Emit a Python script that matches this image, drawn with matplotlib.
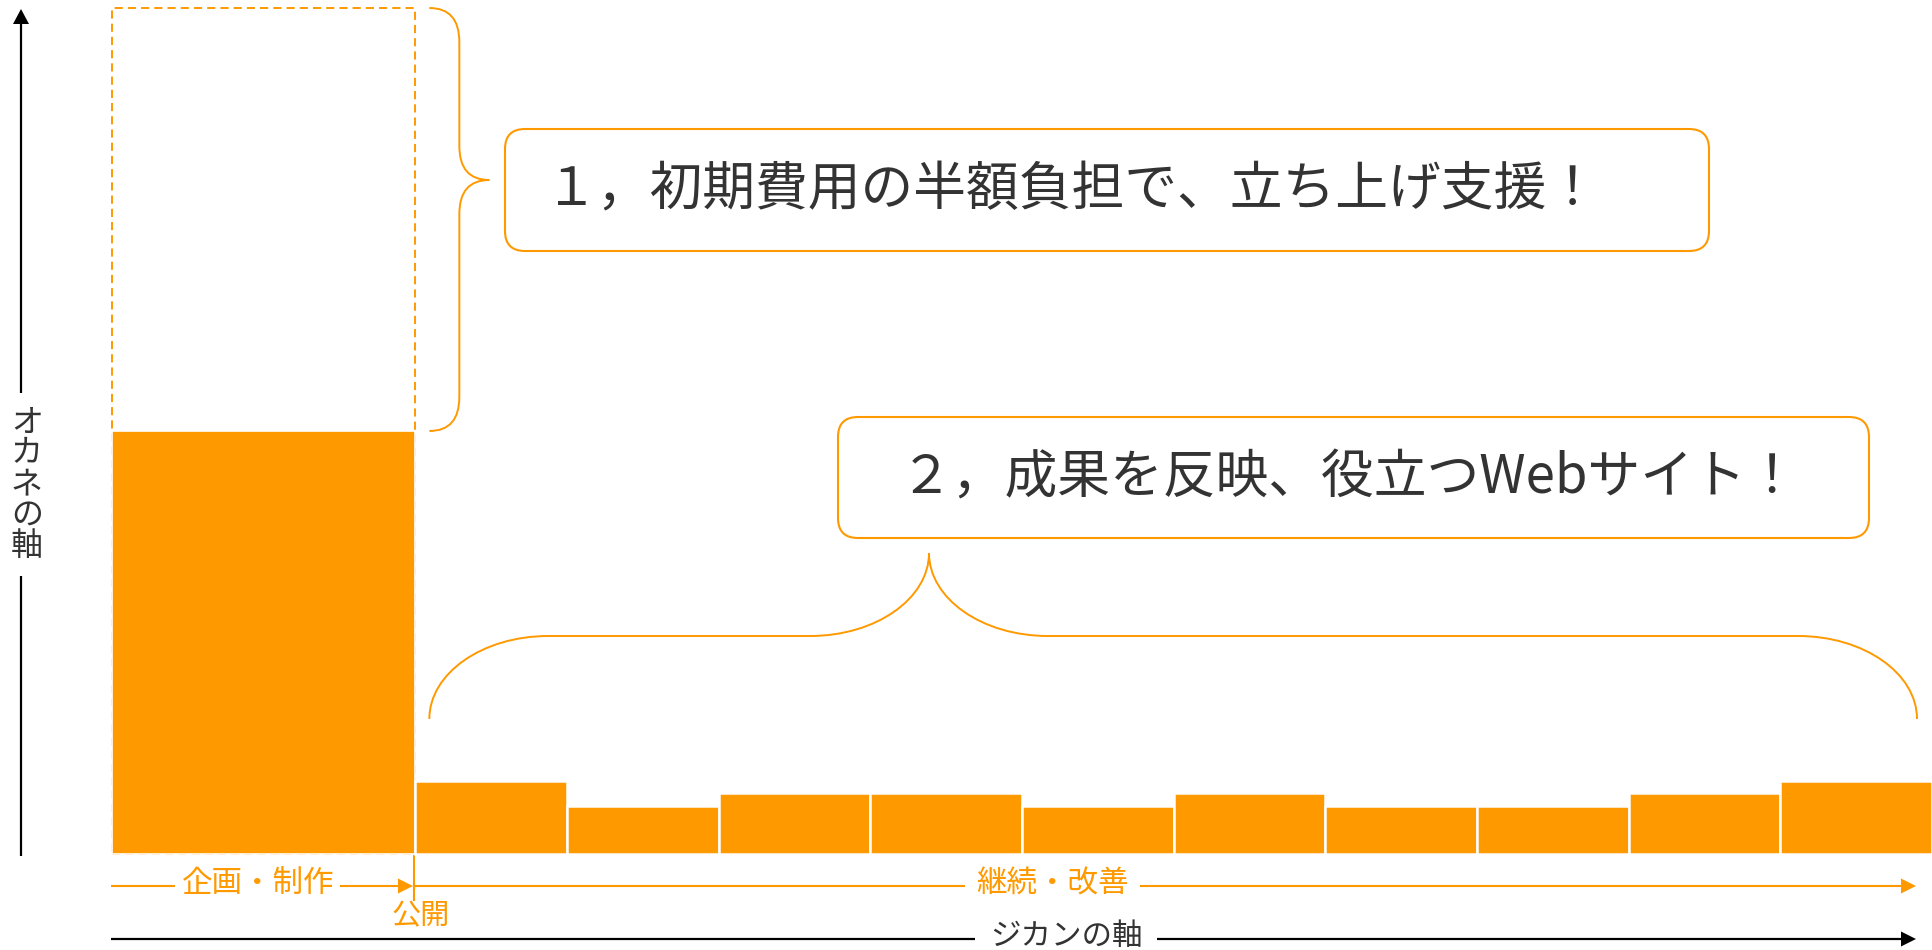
import matplotlib
matplotlib.use('Agg')
import matplotlib.pyplot as plt
from matplotlib.patches import FancyBboxPatch, Polygon, PathPatch
from matplotlib.path import Path

plt.rcParams['font.family'] = ['Noto Sans CJK JP', 'DejaVu Sans']

# ---------------- data ----------------
phase_labels = ['企画・制作', '公開', '継続・改善']
initial_cost_full = 100      # 通常の初期費用
initial_cost_paid = 50       # 半額負担後の初期費用
initial_months = 2           # 企画・制作の期間
monthly_costs = [8.6, 5.7, 7.2, 7.2, 5.7, 7.2, 5.7, 5.7, 7.2, 8.6]
message1 = '１，初期費用の半額負担で、立ち上げ支援！'
message2 = '２，成果を反映、役立つWebサイト！'
y_label = 'オカネの軸'
x_label = 'ジカンの軸'

ORANGE = '#FF9900'
DARK = '#333333'

W, H = 1932, 950
fig = plt.figure(figsize=(W / 100, H / 100), dpi=100)

# overlay axes in pixel coordinates (y downwards) for decorations
ov = fig.add_axes([0, 0, 1, 1])
ov.set_xlim(0, W)
ov.set_ylim(H, 0)
ov.axis('off')

# data axes
x0_px, x1_px, ybot_px, ytop_px = 112, 1932, 854, 8
ax = fig.add_axes([x0_px / W, (H - ybot_px) / H, (x1_px - x0_px) / W, (ybot_px - ytop_px) / H])
n_total = initial_months + len(monthly_costs)
ax.set_xlim(0, n_total)
ax.set_ylim(0, initial_cost_full)
ax.axis('off')

# bars
ax.bar(0, initial_cost_full, width=initial_months, align='edge', facecolor='none',
       edgecolor=ORANGE, linestyle=(0, (4.2, 2.6)), linewidth=1.4, zorder=1, clip_on=False)
ax.bar(0, initial_cost_paid, width=initial_months, align='edge', color=ORANGE,
       edgecolor='white', linewidth=1.2, zorder=2, clip_on=False)
ax.bar(list(range(initial_months, n_total)), monthly_costs, width=1, align='edge',
       color=ORANGE, edgecolor='white', linewidth=1.8, zorder=2, clip_on=False)


def to_px(x, y):
    return ov.transData.inverted().transform(ax.transData.transform((x, y)))


M, L3, C3, C4 = Path.MOVETO, Path.LINETO, Path.CURVE3, Path.CURVE4

# upper brace (covers the subsidised half of the initial cost)
bx = to_px(initial_months, 0)[0]
yt = to_px(0, initial_cost_full)[1]
yb = to_px(0, initial_cost_paid)[1]
xe, xl, xt, ym, r = bx + 14, bx + 44, bx + 74, 180, 34
verts = [(xe, yt), (xl, yt), (xl, yt + r), (xl, ym - r), (xl, ym), (xt, ym),
         (xl, ym), (xl, ym + r), (xl, yb - r), (xl, yb), (xe, yb)]
codes = [M, C3, C3, L3, C3, C3, C3, C3, L3, C3, C3]
ov.add_patch(PathPatch(Path(verts, codes), fc='none', ec=ORANGE, lw=1.4))

# lower brace (covers the monthly improvement period)
k = 0.552
hl = to_px(initial_months, 0)[0] + 14
hr = to_px(n_total, 0)[0] - 15
ye, yl, xm, rx, ry = 719, 636, 929, 119, 83
verts = [(hl, ye), (hl, ye - k * ry), (hl + rx - k * rx, yl), (hl + rx, yl),
         (xm - rx, yl),
         (xm - rx + k * rx, yl), (xm, yl - ry + k * ry), (xm, yl - ry),
         (xm, yl - ry + k * ry), (xm + rx - k * rx, yl), (xm + rx, yl),
         (hr - rx, yl),
         (hr - rx + k * rx, yl), (hr, ye - k * ry), (hr, ye)]
codes = [M, C4, C4, C4, L3, C4, C4, C4, C4, C4, C4, L3, C4, C4, C4]
ov.add_patch(PathPatch(Path(verts, codes), fc='none', ec=ORANGE, lw=1.4))

# message boxes
ov.add_patch(FancyBboxPatch((505, 129), 1204, 122, boxstyle='round,pad=0,rounding_size=20',
                            fc='white', ec=ORANGE, lw=1.5))
ov.add_patch(FancyBboxPatch((838, 417), 1031, 121, boxstyle='round,pad=0,rounding_size=20',
                            fc='white', ec=ORANGE, lw=1.5))
ov.text(1072, 190, message1, fontsize=38, color=DARK, ha='center', va='center')
ov.text(1349, 478, message2, fontsize=38, color=DARK, ha='center', va='center')


def hline(segs, y, color, lw):
    for a, b in segs:
        ov.plot([a, b], [y, y], color=color, lw=lw, solid_capstyle='butt')


def head_right(x, y, color, size=15):
    ov.add_patch(Polygon([(x - size, y - size / 2), (x - size, y + size / 2), (x, y)],
                         closed=True, fc=color, ec='none'))


# phase arrows (orange)
ya = 886
hline([(111, 175), (340, 400)], ya, ORANGE, 1.5)
head_right(413, ya, ORANGE)
hline([(413, 965), (1140, 1903)], ya, ORANGE, 1.5)
head_right(1916, ya, ORANGE)
ov.plot([414, 414], [854, 900], color=ORANGE, lw=1.5)
ov.text(258, 884, phase_labels[0], fontsize=22, color=ORANGE, ha='center', va='center')
ov.text(421, 916, phase_labels[1], fontsize=21, color=ORANGE, ha='center', va='center')
ov.text(1052, 884, phase_labels[2], fontsize=22, color=ORANGE, ha='center', va='center')

# time axis (black)
yx = 939
hline([(111, 975), (1157, 1903)], yx, 'black', 1.6)
head_right(1916, yx, 'black')
ov.text(1066, 936, x_label, fontsize=22, color=DARK, ha='center', va='center')

# money axis (black)
xa = 21
ov.plot([xa, xa], [24, 393], color='black', lw=1.6, solid_capstyle='butt')
ov.plot([xa, xa], [576, 856], color='black', lw=1.6, solid_capstyle='butt')
ov.add_patch(Polygon([(xa - 8, 24), (xa + 8, 24), (xa, 9)], closed=True, fc='black', ec='none'))
ov.text(27, 484, '\n'.join(y_label), fontsize=23, color=DARK, ha='center', va='center',
        linespacing=0.95)

fig.savefig('out.png', dpi=100)
